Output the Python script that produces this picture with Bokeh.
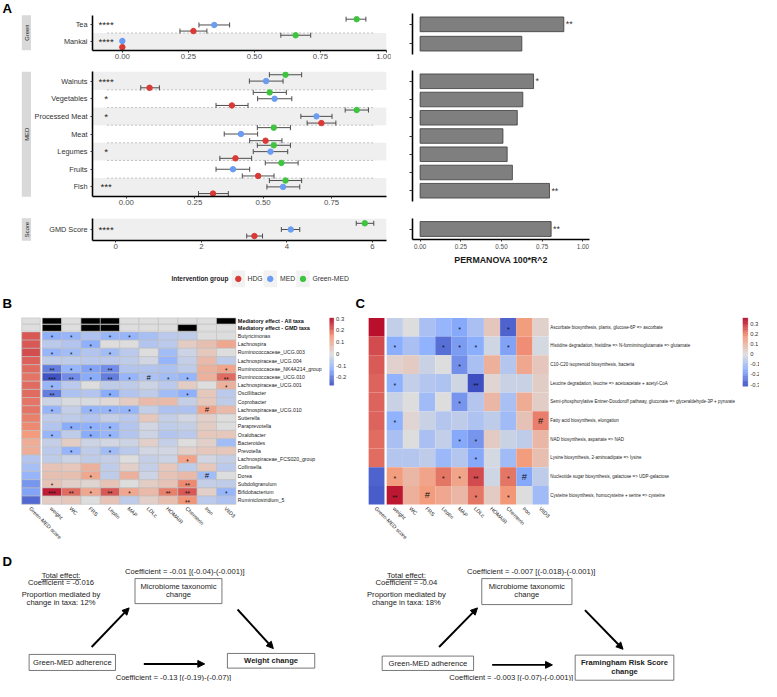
import numpy as np
from bokeh.plotting import figure
from bokeh.layouts import row, column
from bokeh.models import (Range1d, FixedTicker, NumeralTickFormatter, LinearColorMapper,
                          Spacer, Arrow, NormalHead)
from bokeh.transform import transform
from bokeh.core.properties import value
from bokeh.embed import file_html
from bokeh.resources import INLINE

# ======================= DATA: panel A =======================
food_items = ["Tea", "Mankai", "Walnuts", "Vegetables", "Processed Meat", "Meat",
              "Legumes", "Fruits", "Fish", "GMD Score"]
food_facet = ["Green", "Green", "MED", "MED", "MED", "MED", "MED", "MED", "MED", "Score"]
groups = ["HDG", "MED", "Green-MED"]
hdg_mean = [0.269, 0.0, 0.085, 0.386, 0.713, 0.509, 0.399, 0.482, 0.317, 3.24]
hdg_lo = [0.218, 0.0, 0.053, 0.328, 0.661, 0.451, 0.342, 0.424, 0.264, 3.06]
hdg_hi = [0.320, 0.0, 0.121, 0.445, 0.766, 0.569, 0.458, 0.540, 0.373, 3.43]
med_mean = [0.348, 0.0, 0.511, 0.542, 0.695, 0.419, 0.527, 0.390, 0.573, 4.09]
med_lo = [0.290, 0.0, 0.450, 0.480, 0.638, 0.358, 0.464, 0.328, 0.514, 3.87]
med_hi = [0.406, 0.0, 0.573, 0.605, 0.752, 0.480, 0.590, 0.451, 0.634, 4.30]
gmed_mean = [0.887, 0.656, 0.582, 0.524, 0.842, 0.539, 0.539, 0.567, 0.582, 5.82]
gmed_lo = [0.847, 0.600, 0.523, 0.464, 0.800, 0.479, 0.479, 0.508, 0.523, 5.62]
gmed_hi = [0.922, 0.713, 0.641, 0.585, 0.885, 0.600, 0.600, 0.628, 0.641, 6.03]
group_sig = ["****", "****", "****", "*", "*", "", "*", "", "***", "****"]
permanova_r2 = [0.883, 0.625, 0.697, 0.631, 0.597, 0.509, 0.535, 0.567, 0.795, 0.805]
permanova_sig = ["**", "", "*", "", "", "", "", "", "**", "**"]

# ======================= DATA: panel B =======================
traits = ["weight", "WC", "FRS", "Leptin", "MAP", "LDLc", "HOMAIR", "Chemerin", "Iron", "VitD3"]
heat_cols = ["Green-MED score"] + traits
med_all_taxa = [0, 1, 0, 1, 1, 0, 0, 0, 0, 0, 1]
med_gmd_taxa = [0, 1, 0, 1, 1, 0, 0, 0, 1, 0, 0]
taxa = ["Butyricimonas", "Lachnospira", "Ruminococcaceae_UCG.003", "Lachnospiraceae_UCG.004",
        "Ruminococcaceae_NK4A214_group", "Ruminococcaceae_UCG.010", "Lachnospiraceae_UCG.001",
        "Oscillibacter", "Coprobacter", "Lachnospiraceae_UCG.010", "Sutterella", "Paraprevotella",
        "Oxalobacter", "Bacteroides", "Prevotella", "Lachnospiraceae_FCS020_group", "Collinsella",
        "Dorea", "Subdoligranulum", "Bifidobacterium", "Ruminiclostridium_5"]
taxa_gmd = [0.22, 0.22, 0.23, 0.21, 0.20, 0.19, 0.20, 0.20, 0.19, 0.19, 0.18, 0.17, 0.15,
            0.11, 0.11, -0.07, -0.09, -0.12, -0.17, -0.15, -0.23]
taxa_vals = [
    [-0.13, -0.12, -0.08, -0.12, -0.12, -0.09, -0.06, -0.05, 0.00, 0.00],
    [-0.06, -0.07, -0.13, 0.00, 0.00, -0.07, -0.06, 0.04, 0.07, 0.12],
    [-0.12, -0.10, -0.07, -0.10, -0.06, 0.00, -0.10, -0.03, 0.05, 0.00],
    [-0.05, -0.05, -0.06, -0.06, -0.05, -0.02, -0.12, -0.04, 0.08, -0.05],
    [-0.20, -0.12, -0.15, -0.18, -0.07, -0.07, -0.08, -0.05, 0.10, 0.13],
    [-0.26, -0.18, -0.14, -0.20, -0.12, -0.08, -0.10, -0.12, 0.10, 0.20],
    [-0.12, -0.06, 0.00, -0.05, -0.05, -0.03, -0.06, 0.04, 0.00, 0.10],
    [-0.20, -0.08, -0.07, -0.14, -0.07, -0.05, -0.10, -0.13, 0.05, -0.06],
    [-0.03, -0.01, -0.01, 0.01, 0.04, 0.08, 0.08, -0.04, 0.05, -0.05],
    [-0.12, -0.04, -0.12, -0.12, -0.12, -0.04, -0.08, -0.08, 0.13, 0.08],
    [-0.05, -0.05, -0.07, -0.04, -0.06, 0.05, -0.04, -0.02, 0.03, 0.00],
    [-0.07, -0.14, -0.13, -0.12, -0.07, -0.02, -0.05, -0.04, 0.04, 0.00],
    [-0.12, -0.05, -0.14, -0.12, -0.07, -0.03, -0.07, -0.06, 0.05, 0.05],
    [-0.04, 0.04, -0.03, -0.02, -0.03, 0.03, -0.04, 0.00, 0.03, -0.10],
    [-0.06, -0.12, -0.05, -0.10, -0.06, -0.02, -0.02, 0.03, 0.05, 0.05],
    [-0.05, -0.03, -0.05, -0.04, 0.00, -0.04, -0.03, 0.13, -0.02, -0.04],
    [0.06, 0.05, 0.10, -0.05, 0.03, -0.04, 0.05, -0.05, 0.05, -0.06],
    [0.07, 0.07, 0.12, -0.05, 0.10, -0.03, 0.06, 0.08, -0.10, 0.00],
    [0.06, 0.03, 0.02, 0.06, 0.00, 0.04, 0.06, 0.17, -0.04, -0.05],
    [0.28, 0.20, 0.12, 0.22, 0.12, 0.08, 0.18, 0.22, 0.03, -0.12],
    [0.04, 0.05, 0.00, 0.06, -0.05, 0.03, 0.07, 0.16, -0.06, -0.08],
]
taxa_sig = [
    ["*", "*", "", "*", "*", "", "", "", "", ""],
    ["", "", "*", "", "", "", "", "", "", ""],
    ["*", "*", "", "*", "", "", "", "", "", ""],
    ["", "", "", "", "", "", "", "", "", ""],
    ["**", "*", "*", "**", "", "", "", "", "", "*"],
    ["***", "**", "*", "**", "*", "#", "*", "*", "", "**"],
    ["*", "", "", "", "", "", "", "", "", "*"],
    ["**", "", "", "*", "", "", "", "*", "", ""],
    ["", "", "", "", "", "", "", "", "", ""],
    ["*", "", "*", "*", "*", "", "", "", "#", ""],
    ["", "", "", "", "", "", "", "", "", ""],
    ["", "*", "*", "*", "", "", "", "", "", ""],
    ["*", "", "*", "*", "", "", "", "", "", ""],
    ["", "", "", "", "", "", "", "", "", ""],
    ["", "*", "", "*", "", "", "", "", "", ""],
    ["", "", "", "", "", "", "", "*", "", ""],
    ["", "", "", "", "", "", "", "", "", ""],
    ["", "", "*", "", "", "", "", "", "#", ""],
    ["*", "", "", "", "", "", "", "**", "", ""],
    ["***", "**", "*", "**", "*", "", "**", "**", "", "*"],
    ["", "", "", "", "", "", "", "**", "", ""],
]
taxa_cbar_ticks = [0.3, 0.2, 0.1, 0.0, -0.1, -0.2]
taxa_cbar_labels = ["0.3", "0.2", "0.1", "0", "-0.1", "-0.2"]

# ======================= DATA: panel C =======================
pathways = ["Ascorbate biosynthesis, plants, glucose-6P => ascorbate",
            "Histidine degradation, histidine => N-formiminoglutamate => glutamate",
            "C10-C20 isoprenoid biosynthesis, bacteria",
            "Leucine degradation, leucine => acetoacetate + acetyl-CoA",
            "Semi-phosphorylative Entner-Doudoroff pathway, gluconate => glyceraldehyde-3P + pyruvate",
            "Fatty acid biosynthesis, elongation",
            "NAD biosynthesis, aspartate => NAD",
            "Lysine biosynthesis, 2-aminoadipate => lysine",
            "Nucleotide sugar biosynthesis, galactose => UDP-galactose",
            "Cysteine biosynthesis, homocysteine + serine => cysteine"]
path_gmd = [0.34, 0.27, 0.25, 0.24, 0.24, 0.24, 0.23, 0.23, -0.28, -0.29]
path_vals = [
    [-0.05, 0.00, -0.10, -0.14, -0.17, -0.10, 0.06, -0.28, 0.17, 0.03],
    [-0.16, -0.10, -0.15, -0.26, -0.19, -0.16, -0.03, -0.18, 0.19, -0.02],
    [0.03, 0.05, -0.04, 0.00, -0.21, -0.10, 0.12, -0.08, 0.14, 0.06],
    [-0.15, -0.05, -0.08, -0.09, -0.03, -0.31, 0.02, -0.04, -0.04, 0.04],
    [-0.04, 0.00, -0.12, 0.00, -0.20, -0.08, 0.10, -0.10, 0.13, 0.04],
    [-0.15, 0.02, -0.04, -0.08, -0.06, -0.09, -0.06, -0.12, 0.07, 0.21],
    [-0.10, 0.00, -0.10, -0.05, -0.17, -0.20, 0.05, -0.04, -0.06, 0.10],
    [-0.08, -0.08, -0.06, -0.13, -0.08, -0.17, -0.02, -0.12, 0.17, 0.08],
    [0.17, 0.10, 0.15, 0.22, 0.15, 0.27, -0.03, 0.22, -0.17, -0.06],
    [0.33, 0.12, 0.17, 0.14, 0.10, 0.22, 0.05, 0.18, 0.00, -0.12],
]
path_sig = [
    ["", "", "", "", "*", "", "", "*", "", ""],
    ["*", "", "", "*", "*", "*", "", "*", "", ""],
    ["", "", "", "", "*", "", "", "", "", ""],
    ["*", "", "", "", "", "**", "", "", "", ""],
    ["", "", "", "", "*", "", "", "", "", ""],
    ["*", "", "", "", "", "", "", "", "", "#"],
    ["", "", "", "", "*", "*", "", "", "", ""],
    ["", "", "", "", "", "*", "", "", "", ""],
    ["*", "", "", "*", "*", "**", "", "*", "#", ""],
    ["**", "", "#", "", "", "*", "", "*", "", ""],
]
path_cbar_ticks = [0.3, 0.2, 0.1, 0.0, -0.1, -0.2, -0.3]
path_cbar_labels = ["0.3", "0.2", "0.1", "0", "-0.1", "-0.2", "-0.3"]

# ======================= helpers =======================
S = 0.977
FONT = "Liberation Sans"
GROUP_COL = {"HDG": "#D93A36", "MED": "#6A9CF2", "Green-MED": "#3EC43E"}


def P(v):
    return int(round(v * S))


def fs(v):
    return f"{v * S:.2f}px"


def mkfig(bx0, bx1, by0, by1, fx0=None, fx1=None, fy0=None, fy1=None,
          xr=(0, 1), yr=(0, 1), xaxis=None, yaxis=None):
    if fx0 is None:
        fx0, fx1 = bx0, bx1
    if fy0 is None:
        fy0, fy1 = by0, by1
    p = figure(width=P(bx1) - P(bx0), height=P(by1) - P(by0),
               x_range=Range1d(*xr), y_range=Range1d(*yr),
               x_axis_location=xaxis, y_axis_location=yaxis,
               output_backend="svg", toolbar_location=None, tools="",
               min_border_left=P(fx0) - P(bx0), min_border_right=P(bx1) - P(fx1),
               min_border_top=P(fy0) - P(by0), min_border_bottom=P(by1) - P(fy1))
    p.outline_line_color = None
    p.background_fill_color = "white"
    p.border_fill_color = "white"
    p.xgrid.visible = False
    p.ygrid.visible = False
    return p


def txt(p, x, y, t, size, align="center", base="middle", color="#222222", bold=False, angle=0.0):
    p.text(x=x, y=y, text=t, text_font=value(FONT), text_font_size=fs(size),
           text_align=align, text_baseline=base, text_color=color, angle=angle,
           text_font_style="bold" if bold else "normal")


def make_palette(low, high, n=256):
    at = [-1.0, -0.5, 0.0, 0.5, 1.0]
    cols = ["#3B4CC0", "#8DB0FE", "#DDDDDD", "#F49A7B", "#B40426"]
    rgb = np.array([[int(c[i:i + 2], 16) for i in (1, 3, 5)] for c in cols], dtype=float)
    out = []
    for v in np.linspace(low, high, n):
        t = v / high if v >= 0 else v / (-low)
        c = [int(round(np.interp(t, at, rgb[:, k]))) for k in range(3)]
        out.append("#%02x%02x%02x" % tuple(c))
    return out


def style_axis(ax, lw=1.6):
    ax.axis_line_color = "black"
    ax.axis_line_width = lw * S
    ax.major_tick_line_color = "#333333"
    ax.major_tick_out = 2
    ax.major_tick_in = 0
    ax.minor_tick_line_color = None
    ax.major_label_text_font = FONT
    ax.major_label_text_color = "#4D4D4D"


# ======================= panel A =======================
DOT_SPEC = {
    "Green": dict(block=(0, 66), frame=(15, 51), xr=(-0.113, 1.0), yr=(-0.59, 1.59),
                  ticks=[0, 0.25, 0.5, 0.75, 1.0], fmt="0.00", unit=16.5),
    "MED": dict(block=(66, 216), frame=(73, 201), xr=(-0.1234, 0.951), yr=(-0.545, 6.545),
                ticks=[0, 0.25, 0.5, 0.75], fmt="0.00", unit=18.05),
    "Score": dict(block=(216, 262), frame=(223, 246), xr=(-0.544, 6.327), yr=(-0.64, 0.64),
                  ticks=[0, 2, 4, 6], fmt="0", unit=18.0),
}
BAR_SPEC = {
    "Green": dict(block=(0, 66), frame=(13.3, 55), yr=(-0.56, 1.56), h=0.76),
    "MED": dict(block=(66, 216), frame=(72, 206), yr=(-0.59, 6.59), h=0.80),
    "Score": dict(block=(216, 275), frame=(223, 245), yr=(-0.58, 0.58), h=0.82),
}
OFFS = {"HDG": -0.38, "MED": 0.0, "Green-MED": 0.36}
MEANS = {"HDG": (hdg_mean, hdg_lo, hdg_hi), "MED": (med_mean, med_lo, med_hi),
         "Green-MED": (gmed_mean, gmed_lo, gmed_hi)}

left_figs, right_figs = [], []
for facet in ["Green", "MED", "Score"]:
    idx = [i for i, f in enumerate(food_facet) if f == facet]
    n = len(idx)
    ys = [float(n - 1 - k) for k in range(n)]
    sp = DOT_SPEC[facet]
    xr, yr = sp["xr"], sp["yr"]

    def px2x(px):
        return xr[0] + (px - 92) / 303.0 * (xr[1] - xr[0])

    p = mkfig(32, 400, sp["block"][0], sp["block"][1], 92, 395, sp["frame"][0], sp["frame"][1],
              xr=xr, yr=yr, xaxis="below", yaxis="left")
    # alternating bands
    bb, bt = [], []
    for y in ys:
        if int(y) % 2 == 0:
            bb.append(y - 0.5 if y > 0 else yr[0])
            bt.append(y + 0.5 if y < n - 1 else yr[1])
    p.quad(left=xr[0], right=xr[1], bottom=bb, top=bt, fill_color="#EFEFEF", line_color=None)
    # dashed separators
    if n > 1:
        yb = [k + 0.5 for k in range(n - 1)]
        p.segment(x0=[px2x(107)] * len(yb), x1=[px2x(382)] * len(yb), y0=yb, y1=yb,
                  line_color="#AAAAAA", line_width=0.7, line_dash="2 2")
    cap = 2.6 / sp["unit"]
    for g in groups:
        m, lo, hi = MEANS[g]
        mm = [m[i] for i in idx]
        ll = [lo[i] for i in idx]
        hh = [hi[i] for i in idx]
        yy = [y + OFFS[g] for y in ys]
        p.segment(x0=ll, x1=hh, y0=yy, y1=yy, line_color="#4D4D4D", line_width=1.0)
        p.segment(x0=ll, x1=ll, y0=[y - cap for y in yy], y1=[y + cap for y in yy],
                  line_color="#4D4D4D", line_width=1.0)
        p.segment(x0=hh, x1=hh, y0=[y - cap for y in yy], y1=[y + cap for y in yy],
                  line_color="#4D4D4D", line_width=1.0)
    for g in groups:
        m = MEANS[g][0]
        p.scatter(x=[m[i] for i in idx], y=[y + OFFS[g] for y in ys], size=5.6 * S,
                  fill_color=GROUP_COL[g], line_color=GROUP_COL[g])
    txt(p, [px2x(106)] * n, ys, [group_sig[i] for i in idx], 10, color="#1A1A1A")
    # axes
    style_axis(p.yaxis[0])
    p.yaxis.ticker = FixedTicker(ticks=ys)
    ov = {}
    for k, i in enumerate(idx):
        ov[ys[k]] = food_items[i]
    p.yaxis.major_label_overrides = ov
    p.yaxis.major_label_text_font_size = fs(7.5)
    p.yaxis.major_label_text_color = "#333333"
    p.yaxis.major_label_standoff = 3
    style_axis(p.xaxis[0])
    p.xaxis.ticker = FixedTicker(ticks=sp["ticks"])
    p.xaxis.formatter = NumeralTickFormatter(format=sp["fmt"])
    p.xaxis.major_label_text_font_size = fs(8)
    p.xaxis.major_label_standoff = 1
    left_figs.append(p)

    # ---- PERMANOVA bars ----
    bs = BAR_SPEC[facet]
    q = mkfig(400, 620, bs["block"][0], bs["block"][1], 421.7, 603, bs["frame"][0], bs["frame"][1],
              xr=(-0.0468, 1.0408), yr=bs["yr"], xaxis="below" if facet == "Score" else None,
              yaxis="left")
    vals = [permanova_r2[i] for i in idx]
    q.hbar(y=ys, left=0, right=vals, height=bs["h"], fill_color="#7F7F7F",
           line_color="#3A3A3A", line_width=0.8)
    q.text(x=vals, y=ys, text=[permanova_sig[i] for i in idx], x_offset=2 * S,
           text_font=value(FONT), text_font_size=fs(9), text_align="left",
           text_baseline="middle", text_color="#333333")
    style_axis(q.yaxis[0])
    q.yaxis.ticker = FixedTicker(ticks=ys)
    q.yaxis.major_tick_out = 3
    q.yaxis.major_label_text_font_size = "0px"
    q.yaxis.major_label_standoff = 0
    q.yaxis.major_label_overrides = {y: "" for y in ys}
    if facet == "Score":
        style_axis(q.xaxis[0])
        q.xaxis.ticker = FixedTicker(ticks=[0, 0.25, 0.5, 0.75, 1.0])
        q.xaxis.formatter = NumeralTickFormatter(format="0.00")
        q.xaxis.major_label_text_font_size = fs(6.5)
        q.xaxis.major_label_standoff = 2
        q.xaxis.axis_label = "PERMANOVA 100*R^2"
        q.xaxis.axis_label_text_font = FONT
        q.xaxis.axis_label_text_font_style = "bold"
        q.xaxis.axis_label_text_font_size = fs(9)
        q.xaxis.axis_label_text_color = "#1A1A1A"
        q.xaxis.axis_label_standoff = 3
    right_figs.append(q)

# decor: letter A + facet strips
dA = mkfig(0, 32, 0, 300, xr=(0, 32), yr=(300, 0))
txt(dA, [2], [8.5], ["A"], 13.5, align="left", color="black", bold=True)
strip_y = [(15, 51), (73, 201), (223, 246)]
dA.quad(left=[22] * 3, right=[32] * 3, top=[s[0] for s in strip_y], bottom=[s[1] for s in strip_y],
        fill_color="#D9D9D9", line_color=None)
txt(dA, [27] * 3, [(s[0] + s[1]) / 2 for s in strip_y], ["Green", "MED", "Score"], 6,
    color="#1A1A1A", angle=np.pi / 2)

# legend
lg = mkfig(32, 400, 262, 300, xr=(32, 400), yr=(300, 262))
txt(lg, [202], [285], ["Intervention group"], 6.6, align="right", color="#1A1A1A", bold=True)
kx = [214.5, 254.5, 295.5]
lg.quad(left=[k - 8.5 for k in kx], right=[k + 8.5 for k in kx], top=[276.5] * 3, bottom=[293.5] * 3,
        fill_color="#F2F2F2", line_color=None)
lg.scatter(x=kx, y=[285] * 3, size=5.6 * S, fill_color=[GROUP_COL[g] for g in groups],
           line_color=[GROUP_COL[g] for g in groups])
txt(lg, [226, 266.7, 307.3], [285] * 3, groups, 7, align="left", color="#333333")

colA_left = column(left_figs + [lg], spacing=0)
colA_right = column(right_figs + [Spacer(width=P(620) - P(400), height=P(300) - P(275))], spacing=0)
rowA = row([dA, colA_left, colA_right, Spacer(width=P(777) - P(620), height=P(300))], spacing=0)


# ======================= heatmaps =======================
def heatmap(bx0, bx1, x0px, cw, gmd_l, gmd_r, y0px, rh, row_names, gmd, vals, sig, low, high,
            cbx, cby, cb_ticks, cb_labels, letter, letter_x, label_px, row_font, star_fs,
            hash_fs, border, annot=False):
    xr = ((bx0 - x0px) / cw, (bx1 - x0px) / cw)
    yr = ((565 - y0px) / rh, (300 - y0px) / rh)
    p = mkfig(bx0, bx1, 300, 565, xr=xr, yr=yr)
    mapper = LinearColorMapper(palette=make_palette(low, high), low=low, high=high)
    nr = len(row_names)
    xs, ys, vs = [], [], []
    for i in range(nr):
        for j in range(10):
            xs.append(j + 0.5)
            ys.append(i + 0.5)
            vs.append(vals[i][j])
    lc = "#BDBDBD" if border else None
    p.rect(x=xs, y=ys, width=1, height=1, fill_color=transform("v", mapper), line_color=lc,
           line_width=0.6, source=dict(x=xs, y=ys, v=vs)) if False else None
    from bokeh.models import ColumnDataSource
    src = ColumnDataSource(dict(x=xs, y=ys, v=vs))
    p.rect(x="x", y="y", width=1, height=1, fill_color=transform("v", mapper), line_color=lc,
           line_width=0.6, source=src)
    gx = ((gmd_l + gmd_r) / 2 - x0px) / cw
    gw = (gmd_r - gmd_l) / cw
    gsrc = ColumnDataSource(dict(x=[gx] * nr, y=[i + 0.5 for i in range(nr)], v=gmd))
    p.rect(x="x", y="y", width=gw, height=1, fill_color=transform("v", mapper), line_color=lc,
           line_width=0.6, source=gsrc)
    # significance marks
    sx, sy, st, hx, hy, ht = [], [], [], [], [], []
    for i in range(nr):
        for j in range(10):
            s = sig[i][j]
            if s == "#":
                hx.append(j + 0.5); hy.append(i + 0.5); ht.append(s)
            elif s:
                sx.append(j + 0.5); sy.append(i + 0.5 + 2.0 / rh); st.append(s)
    txt(p, sx, sy, st, star_fs, color="#111111")
    txt(p, hx, hy, ht, hash_fs, color="#111111")
    # row labels
    lx = (label_px - x0px) / cw
    txt(p, [lx] * nr, [i + 0.5 for i in range(nr)], row_names, row_font, align="left", color="#222222")
    # column labels (rotated)
    cxs = [gx] + [j + 0.5 for j in range(10)]
    cy = (519 - y0px) / rh
    txt(p, [c - 0.05 for c in cxs], [cy] * 11, heat_cols, 5.5, align="left", color="#222222",
        angle=-np.pi / 4)
    # annotation rows (mediatory effect)
    if annot:
        a_rows = [(325, 331.2, med_all_taxa, "Mediatory effect - All taxa"),
                  (331.8, 338.6, med_gmd_taxa, "Mediatory effect - GMD taxa")]
        for (t0, t1, flags, lab) in a_rows:
            yc = ((t0 + t1) / 2 - y0px) / rh
            hh = (t1 - t0) / rh
            widths = [gw] + [1.0] * 10
            p.rect(x=cxs, y=[yc] * 11, width=widths, height=hh,
                   fill_color=["#000000" if f else "#DEDEDE" for f in flags],
                   line_color="#BDBDBD", line_width=0.6)
            txt(p, [lx], [yc], [lab], 5.6, align="left", color="#111111", bold=True)
    # colour bar
    nstep = 80
    edges = np.linspace(low, high, nstep + 1)

    def v2y(v):
        pxv = cby[1] - (v - low) / (high - low) * (cby[1] - cby[0])
        return (pxv - y0px) / rh

    cb_mid = list((edges[:-1] + edges[1:]) / 2)
    cbsrc = ColumnDataSource(dict(l=[(cbx[0] - x0px) / cw] * nstep, r=[(cbx[1] - x0px) / cw] * nstep,
                                  b=[v2y(v) for v in edges[:-1]], t=[v2y(v) for v in edges[1:]],
                                  v=cb_mid))
    p.quad(left="l", right="r", bottom="b", top="t", fill_color=transform("v", mapper),
           line_color=transform("v", mapper), line_width=0.3, source=cbsrc)
    txt(p, [(cbx[1] + 2.5 - x0px) / cw] * len(cb_ticks), [v2y(v) for v in cb_ticks], cb_labels, 6,
        align="left", color="#333333")
    # panel letter
    txt(p, [(letter_x - x0px) / cw], [(310.7 - y0px) / rh], [letter], 13.5, align="left",
        color="black", bold=True)
    return p


pB = heatmap(0, 362, 42.7, 19.8, 21.7, 40.7, 339.3, 8.4, taxa, taxa_gmd, taxa_vals, taxa_sig,
             -0.269, 0.306, (336.7, 340.7), (325, 394), taxa_cbar_ticks, taxa_cbar_labels,
             "B", 2, 242.7, 5.3, 6.5, 8, True, annot=True)
pC = heatmap(362, 777, 395, 16.6, 376.5, 392.7, 325, 19.1, pathways, path_gmd, path_vals, path_sig,
             -0.317, 0.355, (760, 765), (325, 395), path_cbar_ticks, path_cbar_labels,
             "C", 363, 562.7, 4.6, 7, 9.5, False)
rowBC = row([pB, pC], spacing=0)

# ======================= panel D =======================
pD = mkfig(0, 777, 565, 697, xr=(0, 777), yr=(697, 565))
txt(pD, [2], [574], ["D"], 13.5, align="left", color="black", bold=True)
boxes = [(29.3, 117.7, 669.3, 685.7), (137.7, 226.7, 591.7, 617.3), (232.3, 321.7, 668.3, 683.3),
         (390.7, 484.3, 671, 685.7), (492.7, 585, 591.7, 618.3), (588.3, 689.3, 670, 695.7)]
pD.quad(left=[b[0] for b in boxes], right=[b[1] for b in boxes], top=[b[2] for b in boxes],
        bottom=[b[3] for b in boxes], fill_color="white", line_color="#555555", line_width=0.8)
plain = [(62, 588.3, "Total effect:"), (62, 596, "Coefficient = -0.016"),
         (62, 608.3, "Proportion mediated by"), (62, 615.7, "change in taxa: 12%"),
         (188.7, 584, "Coefficient = -0.01 [(-0.04)-(-0.001)]"),
         (182.2, 600, "Microbiome taxonomic"), (182.2, 608, "change"),
         (73.5, 677.5, "Green-MED adherence"),
         (177, 692.7, "Coefficient = -0.13 [(-0.19)-(-0.07)]"),
         (415.5, 588.3, "Total effect:"), (415.5, 596, "Coefficient = -0.04"),
         (415.5, 608.3, "Proportion mediated by"), (415.5, 615.7, "change in taxa: 18%"),
         (543.3, 584, "Coefficient = -0.007 [(-0.018)-(-0.001)]"),
         (538.8, 600, "Microbiome taxonomic"), (538.8, 608, "change"),
         (437.5, 678.3, "Green-MED adherence"),
         (522.8, 692.7, "Coefficient = -0.003 [(-0.07)-(-0.001)]")]
txt(pD, [t[0] for t in plain], [t[1] for t in plain], [t[2] for t in plain], 7.8)
boldt = [(277, 676, "Weight change"), (638.8, 677.3, "Framingham Risk Score"), (638.8, 686.7, "change")]
txt(pD, [t[0] for t in boldt], [t[1] for t in boldt], [t[2] for t in boldt], 7.8, bold=True)
pD.segment(x0=[62 - 20.4, 415.5 - 20.4], x1=[62 + 20.4, 415.5 + 20.4], y0=[592.6] * 2, y1=[592.6] * 2,
           line_color="#222222", line_width=0.7)
arrows = [(93.3, 661.7, 131.7, 621.7), (242.7, 623.3, 279.3, 663.3), (146.7, 679, 209, 679),
          (449, 661.7, 488.3, 621.7), (598.3, 624, 637.3, 664), (503.3, 680, 565, 680)]
for a in arrows:
    pD.add_layout(Arrow(end=NormalHead(size=7 * S, fill_color="black", line_color="black"),
                        x_start=a[0], y_start=a[1], x_end=a[2], y_end=a[3],
                        line_color="black", line_width=2.0 * S))

layout = column([rowA, rowBC, pD], spacing=0)
open("out.html", "w").write(file_html(layout, INLINE))
